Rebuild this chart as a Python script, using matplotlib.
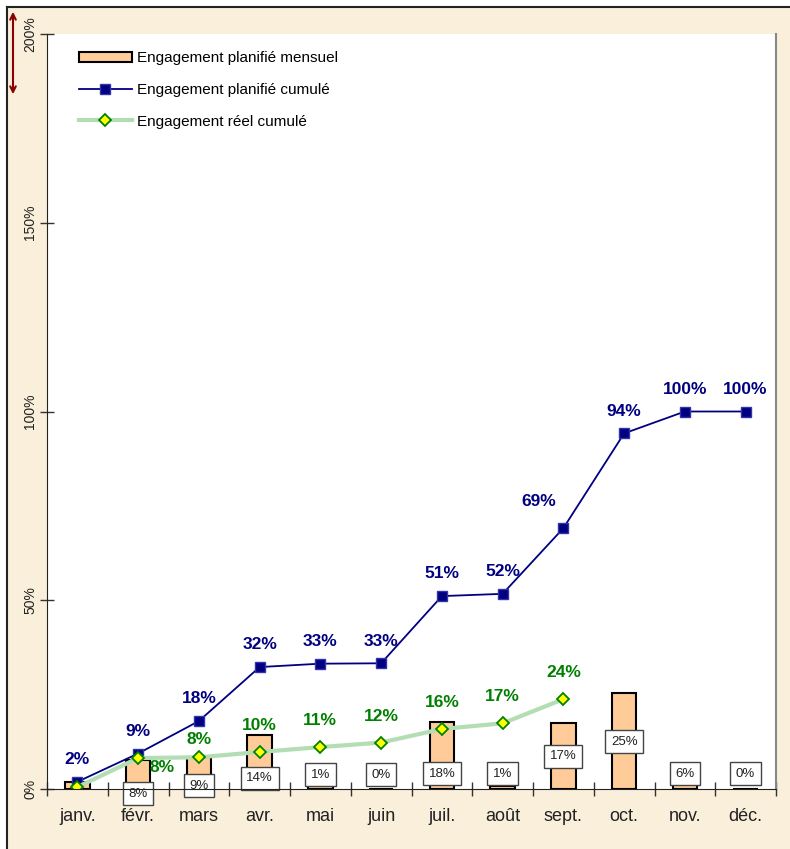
import matplotlib.pyplot as plt
from matplotlib.lines import Line2D

plt.rcParams['font.family'] = ['Liberation Sans', 'DejaVu Sans']

mois = ["janv.", "févr.", "mars", "avr.", "mai", "juin",
        "juil.", "août", "sept.", "oct.", "nov.", "déc."]

planifie_mensuel = [1.9, 7.6, 8.6, 14.3, 1.2, 0, 17.7, 0.8, 17.4, 25.3, 6.1, 0]
planifie_cumule = [1.9, 9.4, 18.0, 32.3, 33.2, 33.3, 51.1, 51.7, 69.1, 94.2, 100, 100]
reel_cumule = [0.5, 8.2, 8.4, 9.8, 11.1, 12.3, 15.9, 17.4, 23.8]

# hauteur des étiquettes encadrées (placement manuel comme dans Excel)
box_y = [None, -1.3, 0.9, 2.9, 3.8, 3.8, 4.0, 4.0, 8.7, 12.5, 4.0, 4.0]

fond = "#F9EFDA"
bleu = "#000080"
vert = "#008000"

fig = plt.figure(figsize=(7.9, 8.49), dpi=100, facecolor=fond)
ax = fig.add_axes([47/790, 1 - 789/849, (776 - 47)/790, (789 - 34)/849])
ax.set_facecolor("white")

x = list(range(len(mois)))

barres = ax.bar(x, planifie_mensuel, width=0.4, color="#FFCC99", edgecolor="black",
                linewidth=1.5, zorder=2, label="Engagement planifié mensuel")
l1, = ax.plot(x, planifie_cumule, color=bleu, lw=1.3, marker="s", ms=7,
              mfc=bleu, mec="#3333AA", zorder=4, label="Engagement planifié cumulé")
l2, = ax.plot(x[:len(reel_cumule)], reel_cumule, color="#B3DDB3", lw=3, marker="D",
              ms=6, mfc="#FFFF00", mec=vert, mew=1.3, zorder=5,
              label="Engagement réel cumulé")

# étiquettes des barres
for i, v in enumerate(planifie_mensuel):
    if box_y[i] is None:
        continue
    ax.text(i, box_y[i], f"{v:.0f}%", ha="center", va="center", fontsize=9.5,
            color="#222222", zorder=3,
            bbox=dict(boxstyle="square,pad=0.42", fc="white", ec="#444444", lw=1))

# étiquettes planifié cumulé
for i, v in enumerate(planifie_cumule):
    dx, dy = (0, 16)
    if i == 8:
        dx, dy = (-18, 19)
    ax.annotate(f"{v:.0f}%", (i, v), xytext=(dx, dy), textcoords="offset points",
                ha="center", va="center", fontsize=12.5, fontweight="bold",
                color=bleu, zorder=6)

# étiquettes réel cumulé
for i, v in enumerate(reel_cumule):
    if i == 0:
        continue
    dx, dy = (0, 19)
    if i == 1:
        dx, dy = (17, -7)
    elif i == 2:
        dy = 13
    ax.annotate(f"{v:.0f}%", (i, v), xytext=(dx, dy), textcoords="offset points",
                ha="center", va="center", fontsize=12.5, fontweight="bold",
                color=vert, zorder=6)

ax.set_xlim(-0.5, len(mois) - 0.5)
ax.set_ylim(0, 200)
ax.set_yticks([0, 50, 100, 150, 200])
ax.set_yticklabels(["0%", "50%", "100%", "150%", "200%"], rotation=90,
                   va="center", fontsize=10, color="#222222")
ax.set_xticks(x)
ax.set_xticklabels(mois, fontsize=13, color="#222222")
ax.set_xticks([i - 0.5 for i in range(len(mois) + 1)], minor=True)
ax.tick_params(axis="x", which="major", length=0, pad=14)
ax.tick_params(axis="x", which="minor", direction="inout", length=10,
               width=1, color="#333333")
ax.tick_params(axis="y", direction="inout", length=10, width=1,
               color="#333333", pad=2)

ax.spines["top"].set_visible(False)
ax.spines["right"].set_color("#888888")
ax.spines["right"].set_linewidth(1.5)
ax.spines["left"].set_color("#222222")
ax.spines["bottom"].set_color("#222222")
ax.spines["bottom"].set_zorder(7)

ax.legend([barres, l1, l2], [barres.get_label(), l1.get_label(), l2.get_label()],
          loc="upper left", bbox_to_anchor=(0.035, 0.985), frameon=False,
          fontsize=11, handlelength=3.5, labelspacing=1.15, handletextpad=0.3,
          borderaxespad=0)

# cadre et flèche
fig.add_artist(Line2D([7/790, 7/790], [0, 1 - 7/849], color="#222222", lw=1.5))
fig.add_artist(Line2D([7/790, 1], [1 - 7/849, 1 - 7/849], color="#222222", lw=1.5))
fig.add_artist(plt.Rectangle((0, 1 - 6/849), 1, 6/849, transform=fig.transFigure,
                             color="white", zorder=0))
fig.add_artist(plt.Rectangle((0, 0), 6/790, 1, transform=fig.transFigure,
                             color="white", zorder=0))
ax.annotate("", xy=(13/790, 1 - 97/849), xytext=(13/790, 1 - 9/849),
            xycoords="figure fraction", textcoords="figure fraction",
            arrowprops=dict(arrowstyle="<->", color="#8B0000", lw=1.5))

fig.savefig("out.png", dpi=100, facecolor=fond)
